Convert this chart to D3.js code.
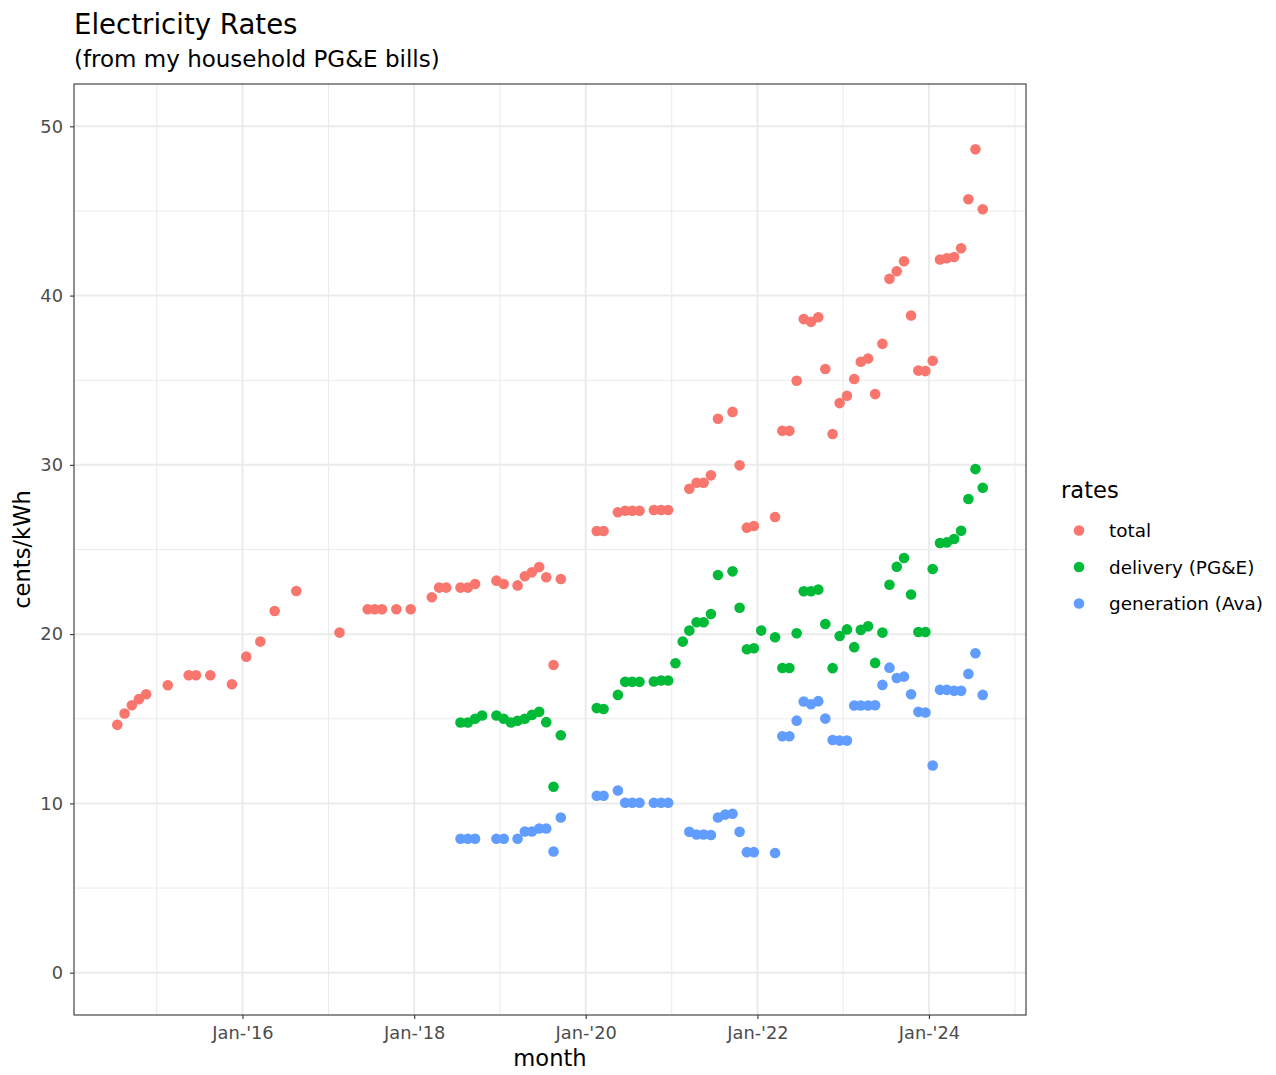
<!DOCTYPE html>
<html>
<head>
<meta charset="utf-8">
<script src="https://cdn.jsdelivr.net/npm/d3@7"></script>
<style>
  body { margin: 0; background: #fff; }
  svg { font-family: "DejaVu Sans", sans-serif; }
</style>
</head>
<body>
<svg width="1276" height="1075"></svg>
<script>
// monthly rates, cents/kWh
const totalRates = [
  ["2014-07", 14.64], ["2014-08", 15.31], ["2014-09", 15.80], ["2014-10", 16.16], ["2014-11", 16.45],
  ["2015-02", 16.98], ["2015-05", 17.57], ["2015-06", 17.57], ["2015-08", 17.57], ["2015-11", 17.04],
  ["2016-01", 18.67], ["2016-03", 19.56], ["2016-05", 21.37], ["2016-08", 22.55], ["2017-02", 20.09],
  ["2017-06", 21.47], ["2017-07", 21.47], ["2017-08", 21.47], ["2017-10", 21.47], ["2017-12", 21.47],
  ["2018-03", 22.18], ["2018-04", 22.75], ["2018-05", 22.75], ["2018-07", 22.75], ["2018-08", 22.75],
  ["2018-09", 22.96], ["2018-12", 23.16], ["2019-01", 22.96], ["2019-03", 22.88], ["2019-04", 23.42],
  ["2019-05", 23.65], ["2019-06", 23.97], ["2019-07", 23.36], ["2019-08", 18.18], ["2019-09", 23.26],
  ["2020-02", 26.09], ["2020-03", 26.09], ["2020-05", 27.20], ["2020-06", 27.29], ["2020-07", 27.29],
  ["2020-08", 27.29], ["2020-10", 27.33], ["2020-11", 27.33], ["2020-12", 27.33], ["2021-03", 28.59],
  ["2021-04", 28.94], ["2021-05", 28.94], ["2021-06", 29.38], ["2021-07", 32.72], ["2021-09", 33.13],
  ["2021-10", 29.97], ["2021-11", 26.29], ["2021-12", 26.39], ["2022-03", 26.92], ["2022-04", 32.01],
  ["2022-05", 32.01], ["2022-06", 34.97], ["2022-07", 38.61], ["2022-08", 38.45], ["2022-09", 38.72],
  ["2022-10", 35.66], ["2022-11", 31.82], ["2022-12", 33.65], ["2023-01", 34.08], ["2023-02", 35.07],
  ["2023-03", 36.09], ["2023-04", 36.28], ["2023-05", 34.18], ["2023-06", 37.15], ["2023-07", 40.99],
  ["2023-08", 41.44], ["2023-09", 42.03], ["2023-10", 38.82], ["2023-11", 35.57], ["2023-12", 35.54],
  ["2024-01", 36.15], ["2024-02", 42.13], ["2024-03", 42.21], ["2024-04", 42.28], ["2024-05", 42.80],
  ["2024-06", 45.69], ["2024-07", 48.64], ["2024-08", 45.10]
]

const deliveryRates = [
  ["2018-07", 14.78], ["2018-08", 14.78], ["2018-09", 15.00], ["2018-10", 15.19], ["2018-12", 15.19],
  ["2019-01", 15.00], ["2019-02", 14.78], ["2019-03", 14.88], ["2019-04", 15.00], ["2019-05", 15.23],
  ["2019-06", 15.41], ["2019-07", 14.80], ["2019-08", 10.98], ["2019-09", 14.03], ["2020-02", 15.63],
  ["2020-03", 15.58], ["2020-05", 16.41], ["2020-06", 17.18], ["2020-07", 17.18], ["2020-08", 17.18],
  ["2020-10", 17.20], ["2020-11", 17.26], ["2020-12", 17.26], ["2021-01", 18.28], ["2021-02", 19.56],
  ["2021-03", 20.21], ["2021-04", 20.70], ["2021-05", 20.70], ["2021-06", 21.19], ["2021-07", 23.49],
  ["2021-09", 23.71], ["2021-10", 21.56], ["2021-11", 19.11], ["2021-12", 19.17], ["2022-01", 20.21],
  ["2022-03", 19.82], ["2022-04", 18.00], ["2022-05", 18.00], ["2022-06", 20.05], ["2022-07", 22.53],
  ["2022-08", 22.53], ["2022-09", 22.63], ["2022-10", 20.60], ["2022-11", 17.99], ["2022-12", 19.89],
  ["2023-01", 20.28], ["2023-02", 19.23], ["2023-03", 20.25], ["2023-04", 20.46], ["2023-05", 18.30],
  ["2023-06", 20.09], ["2023-07", 22.92], ["2023-08", 23.98], ["2023-09", 24.50], ["2023-10", 22.34],
  ["2023-11", 20.13], ["2023-12", 20.13], ["2024-01", 23.85], ["2024-02", 25.38], ["2024-03", 25.42],
  ["2024-04", 25.62], ["2024-05", 26.11], ["2024-06", 27.98], ["2024-07", 29.75], ["2024-08", 28.65]
]

const generationRates = [
  ["2018-07", 7.91], ["2018-08", 7.91], ["2018-09", 7.91], ["2018-12", 7.91], ["2019-01", 7.91],
  ["2019-03", 7.91], ["2019-04", 8.34], ["2019-05", 8.34], ["2019-06", 8.52], ["2019-07", 8.52],
  ["2019-08", 7.16], ["2019-09", 9.17], ["2020-02", 10.45], ["2020-03", 10.45], ["2020-05", 10.76],
  ["2020-06", 10.04], ["2020-07", 10.04], ["2020-08", 10.04], ["2020-10", 10.04], ["2020-11", 10.04],
  ["2020-12", 10.04], ["2021-03", 8.32], ["2021-04", 8.16], ["2021-05", 8.16], ["2021-06", 8.13],
  ["2021-07", 9.17], ["2021-08", 9.34], ["2021-09", 9.39], ["2021-10", 8.32], ["2021-11", 7.12],
  ["2021-12", 7.12], ["2022-03", 7.07], ["2022-04", 13.97], ["2022-05", 13.97], ["2022-06", 14.89],
  ["2022-07", 16.02], ["2022-08", 15.86], ["2022-09", 16.04], ["2022-10", 15.01], ["2022-11", 13.75],
  ["2022-12", 13.71], ["2023-01", 13.71], ["2023-02", 15.78], ["2023-03", 15.78], ["2023-04", 15.78],
  ["2023-05", 15.80], ["2023-06", 17.00], ["2023-07", 18.02], ["2023-08", 17.41], ["2023-09", 17.49],
  ["2023-10", 16.45], ["2023-11", 15.41], ["2023-12", 15.37], ["2024-01", 12.24], ["2024-02", 16.71],
  ["2024-03", 16.71], ["2024-04", 16.65], ["2024-05", 16.65], ["2024-06", 17.65], ["2024-07", 18.87],
  ["2024-08", 16.41]
]

const seriesNames = ["total", "delivery (PG&E)", "generation (Ava)"]
const seriesColors = ["#F8766D", "#00BA38", "#619CFF"]
const yTicks = [0, 10, 20, 30, 40, 50]
const yMinor = [5, 15, 25, 35, 45]
const billDay = 17

const parseDate = d3.timeParse("%Y-%m-%d")

const points = [totalRates, deliveryRates, generationRates].flatMap((rows, i) =>
  rows.map(r => ({ date: parseDate(r[0] + "-" + billDay), value: r[1], series: seriesNames[i] })))

const svg = d3.select("svg")
const panel = { left: 74, right: 1026, top: 84, bottom: 1015 }

// ggplot-style 5% expansion on x
const ext = d3.extent(points, d => d.date)
const pad = (ext[1] - ext[0]) * 0.05
const x = d3.scaleTime()
  .domain([new Date(+ext[0] - pad), new Date(+ext[1] + pad)])
  .range([panel.left, panel.right])

const y = d3.scaleLinear()
  .domain([-2.5, 52.5])
  .range([panel.bottom, panel.top])

const color = d3.scaleOrdinal().domain(seriesNames).range(seriesColors)

const xMajor = d3.timeYear.every(2).range(ext[0], ext[1]).filter(d => d.getFullYear() % 2 === 0)
const xMinorTicks = d3.timeYear.range(new Date(2014, 0, 1), x.domain()[1])
  .filter(d => d.getFullYear() % 2 === 1 && x(d) > panel.left && x(d) < panel.right)

const grid = svg.append("g")
grid.selectAll(".ymin").data(yMinor).join("line")
  .attr("x1", panel.left).attr("x2", panel.right)
  .attr("y1", d => y(d)).attr("y2", d => y(d))
  .attr("stroke", "#EBEBEB").attr("stroke-width", 1)
grid.selectAll(".xmin").data(xMinorTicks).join("line")
  .attr("y1", panel.top).attr("y2", panel.bottom)
  .attr("x1", d => x(d)).attr("x2", d => x(d))
  .attr("stroke", "#EBEBEB").attr("stroke-width", 1)
grid.selectAll(".ymaj").data(yTicks).join("line")
  .attr("x1", panel.left).attr("x2", panel.right)
  .attr("y1", d => y(d)).attr("y2", d => y(d))
  .attr("stroke", "#EBEBEB").attr("stroke-width", 2)
grid.selectAll(".xmaj").data(xMajor).join("line")
  .attr("y1", panel.top).attr("y2", panel.bottom)
  .attr("x1", d => x(d)).attr("x2", d => x(d))
  .attr("stroke", "#EBEBEB").attr("stroke-width", 2)

svg.append("g").selectAll("circle")
  .data(points)
  .join("circle")
  .attr("cx", d => x(d.date))
  .attr("cy", d => y(d.value))
  .attr("r", 5.3)
  .attr("fill", d => color(d.series))

svg.append("rect")
  .attr("x", panel.left).attr("y", panel.top)
  .attr("width", panel.right - panel.left).attr("height", panel.bottom - panel.top)
  .attr("fill", "none").attr("stroke", "#333333").attr("stroke-width", 1.1)

const xAxis = svg.append("g")
  .attr("transform", `translate(0,${panel.bottom})`)
  .call(d3.axisBottom(x).tickValues(xMajor).tickFormat(d3.timeFormat("%b-'%y")).tickSize(4).tickPadding(7))
const yAxis = svg.append("g")
  .attr("transform", `translate(${panel.left},0)`)
  .call(d3.axisLeft(y).tickValues(yTicks).tickSize(4).tickPadding(7))

for (const ax of [xAxis, yAxis]) {
  ax.select(".domain").remove()
  ax.selectAll(".tick line").attr("stroke", "#333333").attr("stroke-width", 1.1)
  ax.selectAll(".tick text").attr("fill", "#4D4D4D").style("font-size", "17.8px")
    .style("font-family", "DejaVu Sans")
}

svg.append("text").attr("x", (panel.left + panel.right) / 2).attr("y", 1066)
  .attr("text-anchor", "middle").style("font-size", "22.6px").text("month")
svg.append("text").attr("transform", `translate(30,${(panel.top + panel.bottom) / 2}) rotate(-90)`)
  .attr("text-anchor", "middle").style("font-size", "22.6px").text("cents/kWh")

svg.append("text").attr("x", 74).attr("y", 34).style("font-size", "27.6px").text("Electricity Rates")
svg.append("text").attr("x", 74).attr("y", 67).style("font-size", "23px").text("(from my household PG&E bills)")

const legend = svg.append("g")
legend.append("text").attr("x", 1061).attr("y", 498).style("font-size", "22.6px").text("rates")
const items = legend.selectAll(".item").data(seriesNames).join("g")
  .attr("transform", (d, i) => `translate(0,${530.5 + i * 36.5})`)
items.append("circle").attr("cx", 1079).attr("cy", 0).attr("r", 5.3).attr("fill", d => color(d))
items.append("text").attr("x", 1109).attr("y", 6.5).style("font-size", "18.4px").text(d => d)
</script>
</body>
</html>
